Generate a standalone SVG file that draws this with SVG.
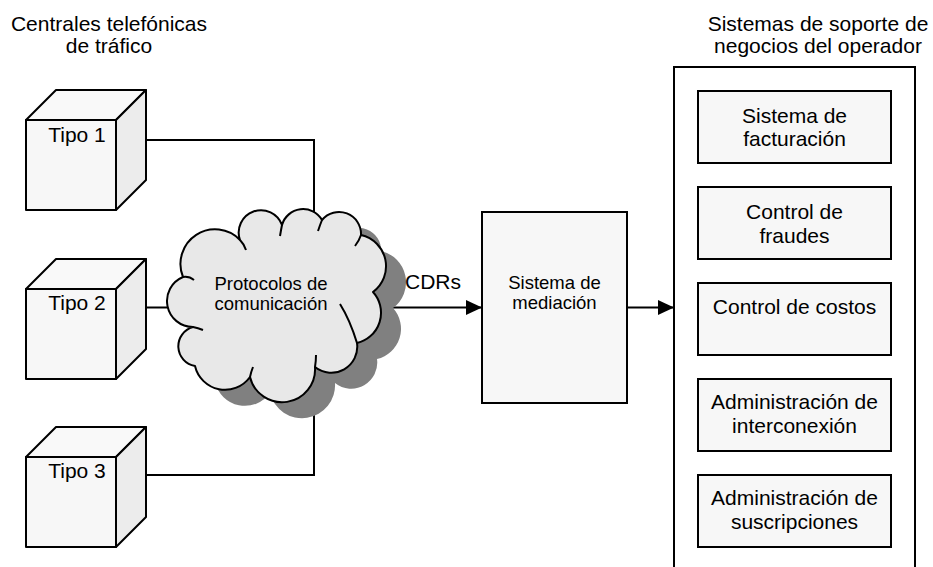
<svg xmlns="http://www.w3.org/2000/svg" width="933" height="567" viewBox="0 0 933 567">
<defs>
<style>
text{font-family:"Liberation Sans",Arial,sans-serif;fill:#000;text-anchor:middle}
.t21{font-size:21px}
.t18{font-size:18.5px}
.ln{fill:none;stroke:#000;stroke-width:2}
.box{fill:#f7f7f7;stroke:#000;stroke-width:2}
.front{fill:#f7f7f7;stroke:#000;stroke-width:2;stroke-linejoin:round}
.top{fill:#f9f9f9;stroke:#000;stroke-width:2;stroke-linejoin:round}
.side{fill:#ececec;stroke:#000;stroke-width:2;stroke-linejoin:round}
.cloud{fill:#e8e8e8;stroke:#000;stroke-width:2;stroke-linejoin:round}
.shadow{fill:#808080}
</style>
<marker id="ah" markerUnits="userSpaceOnUse" markerWidth="16" markerHeight="16" viewBox="0 0 16 16" refX="16" refY="8" orient="auto">
<path d="M0,0.5 L16,8 L0,15.5 Z" fill="#000"/>
</marker>
<path id="cloudpath" d="M183,277 A34.6,34.6 0 0 1 240,240 A22,22 0 0 1 282,225 A21.9,21.9 0 0 1 322,220 A22,22 0 0 1 361,235 A32,32 0 0 1 373,292 A31,31 0 0 1 357,343 A26,26 0 0 1 315,367 A33,33 0 0 1 250,377 A30.8,30.8 0 0 1 195,366 A20,20 0 0 1 193,327 A26,26 0 0 1 183,277 Z"/>
</defs>

<text class="t21" x="109" y="31">Centrales telefónicas</text>
<text class="t21" x="109" y="53">de tráfico</text>
<text class="t21" x="818" y="31">Sistemas de soporte de</text>
<text class="t21" x="818" y="53">negocios del operador</text>

<g id="connectors">
<polyline class="ln" points="146,140 314,140 314,260"/>
<polyline class="ln" points="146,307.5 230,307.5"/>
<polyline class="ln" points="146,475 314,475 314,380"/>
<line class="ln" x1="370" y1="307.5" x2="482" y2="307.5" marker-end="url(#ah)"/>
<line class="ln" x1="627" y1="307.5" x2="674" y2="307.5" marker-end="url(#ah)"/>
</g>

<g id="tipo1">
<rect class="front" x="26" y="120" width="90" height="90"/>
<polygon class="top" points="26,120 56,90 146,90 116,120"/>
<polygon class="side" points="116,120 146,90 146,180 116,210"/>
<text class="t21" x="77" y="141.5">Tipo 1</text>
</g>
<g id="tipo2">
<rect class="front" x="26" y="289" width="90" height="90"/>
<polygon class="top" points="26,289 56,259 146,259 116,289"/>
<polygon class="side" points="116,289 146,259 146,349 116,379"/>
<text class="t21" x="77" y="310">Tipo 2</text>
</g>
<g id="tipo3">
<rect class="front" x="26" y="457" width="90" height="90"/>
<polygon class="top" points="26,457 56,427 146,427 116,457"/>
<polygon class="side" points="116,457 146,427 146,517 116,547"/>
<text class="t21" x="77" y="478">Tipo 3</text>
</g>

<g id="cloud">
<use href="#cloudpath" class="shadow" transform="translate(20,16)"/>
<use href="#cloudpath" class="cloud"/>
<path class="ln" d="M183,277 Q189,276 194,280 M240,240 Q244,244 246,250 M282,225 Q281,230 280,236 M322,220 Q320,225 318,231 M361,235 Q359,241 355,246 M357,343 Q350,320 340,304 M315,367 Q316,361 316,355 M250,377 Q251,372 253,367 M193,327 Q198,328 203,330"/>
<text class="t18" x="271" y="290">Protocolos de</text>
<text class="t18" x="271" y="310">comunicación</text>
</g>

<g id="mediacion">
<rect class="box" x="482" y="212" width="145" height="191"/>
<text class="t18" x="554.5" y="289">Sistema de</text>
<text class="t18" x="554.5" y="309">mediación</text>
</g>

<text class="t21" x="433" y="289">CDRs</text>

<g id="operador">
<polyline class="ln" points="674,580 674,67 915,67 915,580"/>
</g>
<g id="facturacion">
<rect class="box" x="698" y="91" width="193" height="72"/>
<text class="t21" x="794.5" y="122.5">Sistema de</text>
<text class="t21" x="794.5" y="145.5">facturación</text>
</g>
<g id="fraudes">
<rect class="box" x="698" y="187" width="193" height="72"/>
<text class="t21" x="794.5" y="219">Control de</text>
<text class="t21" x="794.5" y="242.5">fraudes</text>
</g>
<g id="costos">
<rect class="box" x="698" y="283" width="193" height="72"/>
<text class="t21" x="794.5" y="313.5">Control de costos</text>
</g>
<g id="interconexion">
<rect class="box" x="698" y="379" width="193" height="72"/>
<text class="t21" x="794.5" y="409">Administración de</text>
<text class="t21" x="794.5" y="432.5">interconexión</text>
</g>
<g id="suscripciones">
<rect class="box" x="698" y="475" width="193" height="72"/>
<text class="t21" x="794.5" y="505">Administración de</text>
<text class="t21" x="794.5" y="528.5">suscripciones</text>
</g>
</svg>
